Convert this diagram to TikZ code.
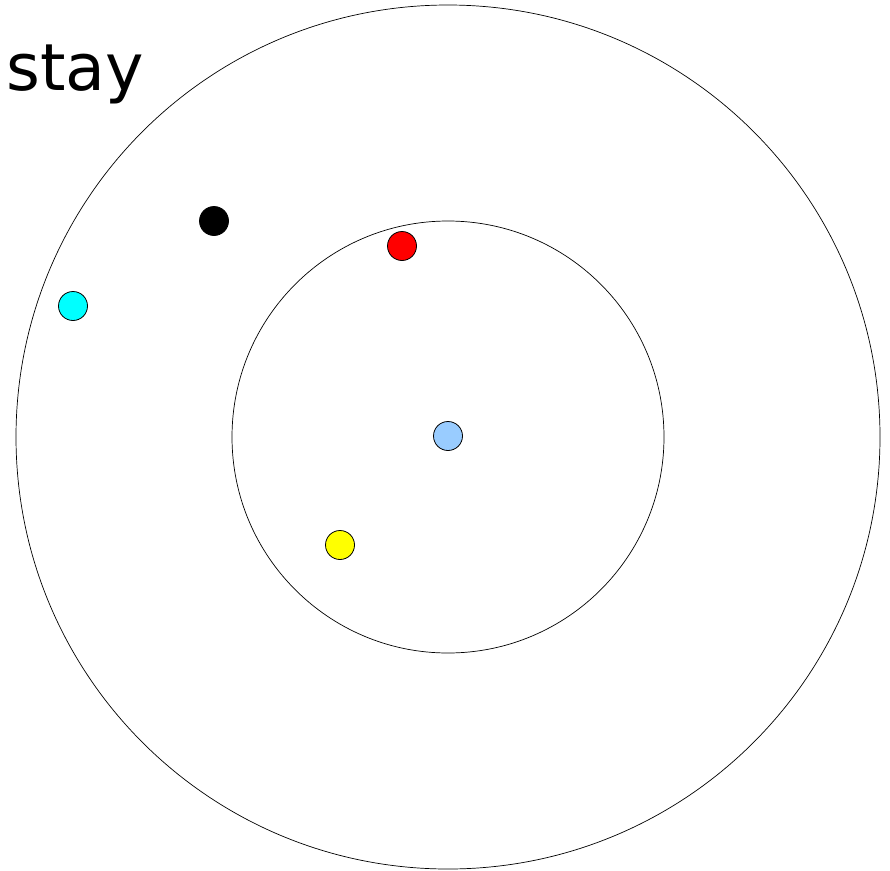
\documentclass[tikz,border=0pt]{standalone}
\usepackage{fontspec}
\setmainfont{DejaVu Sans}
\usetikzlibrary{positioning}
\definecolor{skyDot}{RGB}{153,204,255}
\definecolor{aquaDot}{RGB}{0,255,255}
\definecolor{sunDot}{RGB}{255,255,0}

\begin{document}
\begin{tikzpicture}[x=1pt,y=-1pt,
    ball/.style={circle,draw=black,line width=0.8pt,minimum size=29pt,inner sep=0pt}]
  \useasboundingbox (0,0) rectangle (890,870);
  \node[circle,draw,line width=0.7pt,minimum size=864pt,inner sep=0pt] (outer) at (448,437) {};
  \node[circle,draw,line width=0.7pt,minimum size=432pt,inner sep=0pt] (inner) at (448,437) {};
  \node[anchor=base west,inner sep=0pt,font=\fontsize{65}{72}\selectfont] (title) at (6,90) {stay};
  \node[ball,fill=black] (black) at (214,221) {};
  \node[ball,fill=red] (red) at (402,246) {};
  \node[ball,fill=aquaDot] (cyan) at (73,306) {};
  \node[ball,fill=skyDot] (center) at (448,436) {};
  \node[ball,fill=sunDot] (yellow) at (340,545) {};
\end{tikzpicture}
\end{document}
